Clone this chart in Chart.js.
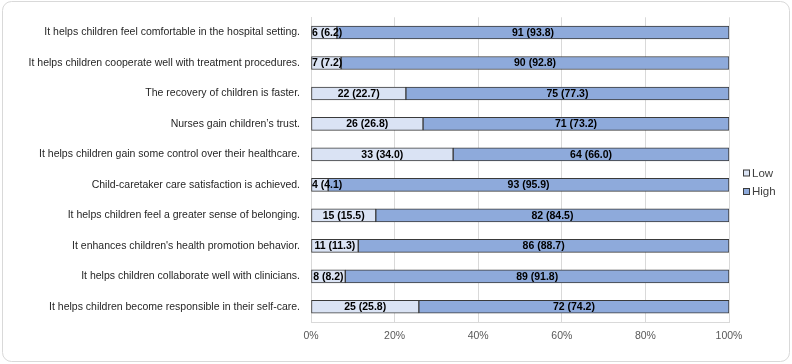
<!DOCTYPE html>
<html><head><meta charset="utf-8">
<script src="https://cdn.jsdelivr.net/npm/chart.js@4"></script>
<style>html,body{margin:0;padding:0;background:#fff}#wrap{width:792px;height:364px;position:relative}</style>
</head><body><div id="wrap"><canvas id="c" width="792" height="364"></canvas></div>
<script>
const categories = [
  "It helps children feel comfortable in the hospital setting.",
  "It helps children cooperate well with treatment procedures.",
  "The recovery of children is faster.",
  "Nurses gain children\u2019s trust.",
  "It helps children gain some control over their healthcare.",
  "Child-caretaker care satisfaction is achieved.",
  "It helps children feel a greater sense of belonging.",
  "It enhances children's health promotion behavior.",
  "It helps children collaborate well with clinicians.",
  "It helps children become responsible in their self-care."
];
const seriesNames = ["Low", "High"];
const lowCounts = [6, 7, 22, 26, 33, 4, 15, 11, 8, 25];
const lowPct = [6.2, 7.2, 22.7, 26.8, 34.0, 4.1, 15.5, 11.3, 8.2, 25.8];
const highCounts = [91, 90, 75, 71, 64, 93, 82, 86, 89, 72];
const highPct = [93.8, 92.8, 77.3, 73.2, 66.0, 95.9, 84.5, 88.7, 91.8, 74.2];
const xTicks = [0, 20, 40, 60, 80, 100];

const FONT = "'Liberation Sans', Arial, sans-serif";

const frame = {
  id: 'frame',
  beforeDraw(chart) {
    const ctx = chart.ctx;
    ctx.save();
    ctx.fillStyle = '#fff';
    ctx.fillRect(0, 0, chart.width, chart.height);
    ctx.strokeStyle = '#d9d9d9';
    ctx.lineWidth = 1;
    ctx.beginPath();
    ctx.roundRect(2.5, 1.5, 787, 360, 9);
    ctx.stroke();
    ctx.restore();
  }
};

const labelsPlugin = {
  id: 'segLabels',
  afterDatasetsDraw(chart) {
    const ctx = chart.ctx;
    const area = chart.chartArea;
    ctx.save();
    ctx.font = "bold 10.5px " + FONT;
    ctx.fillStyle = '#000';
    ctx.textBaseline = 'middle';
    ctx.textAlign = 'center';
    chart.data.datasets.forEach((ds, di) => {
      const meta = chart.getDatasetMeta(di);
      meta.data.forEach((bar, i) => {
        const txt = ds.counts[i] + ' (' + ds.pcts[i].toFixed(1) + ')';
        const w = ctx.measureText(txt).width;
        let x = (bar.x + bar.base) / 2;
        if (x - w / 2 < area.left + 1) x = area.left + 1 + w / 2;
        ctx.fillText(txt, x, bar.y + 0.5);
      });
    });
    ctx.restore();
  }
};

const legendPlugin = {
  id: 'sideLegend',
  afterDraw(chart) {
    const ctx = chart.ctx;
    const area = chart.chartArea;
    ctx.save();
    ctx.font = "11.5px " + FONT;
    ctx.textBaseline = 'middle';
    ctx.textAlign = 'left';
    const x0 = area.right + 14;
    const yStart = 173;
    chart.data.datasets.forEach((ds, i) => {
      const y = yStart + i * 18.5;
      ctx.fillStyle = ds.backgroundColor;
      ctx.fillRect(x0 + 0.5, y - 3, 6, 6);
      ctx.strokeStyle = ds.borderColor;
      ctx.lineWidth = 1;
      ctx.strokeRect(x0 + 0.5, y - 3, 6, 6);
      ctx.fillStyle = '#404040';
      ctx.fillText(ds.label, x0 + 9, y + 0.5);
    });
    ctx.restore();
  }
};

new Chart(document.getElementById('c'), {
  type: 'bar',
  data: {
    labels: categories,
    datasets: [
      { label: seriesNames[0], data: lowPct, counts: lowCounts, pcts: lowPct,
        backgroundColor: '#dae3f4', borderColor: '#3a3a3a', borderWidth: 1, borderSkipped: false },
      { label: seriesNames[1], data: highPct, counts: highCounts, pcts: highPct,
        backgroundColor: '#8eaadb', borderColor: '#3a3a3a', borderWidth: 1, borderSkipped: false }
    ]
  },
  options: {
    indexAxis: 'y',
    responsive: false,
    animation: false,
    devicePixelRatio: 1,
    layout: { padding: { left: 11, top: 11, right: 63, bottom: 0 } },
    datasets: { bar: { barThickness: 13 } },
    scales: {
      x: {
        stacked: true, min: 0, max: 100,
        afterBuildTicks(scale) { scale.ticks = xTicks.map(v => ({ value: v })); },
        afterFit(scale) { scale.height = 42; },
        grid: { color: '#d9d9d9', drawTicks: false },
        border: { color: '#d9d9d9' },
        ticks: { padding: 8, color: '#595959', font: { family: FONT, size: 10.5 },
                 callback: v => v + '%' }
      },
      y: {
        stacked: true,
        afterFit(scale) { scale.width = 300; },
        grid: { display: false, drawTicks: false },
        border: { color: '#d9d9d9' },
        ticks: { padding: 11, color: '#262626', font: { family: FONT, size: 10.5 } }
      }
    },
    plugins: {
      legend: { display: false },
      tooltip: { enabled: false }
    }
  },
  plugins: [frame, labelsPlugin, legendPlugin]
});
</script></body></html>
